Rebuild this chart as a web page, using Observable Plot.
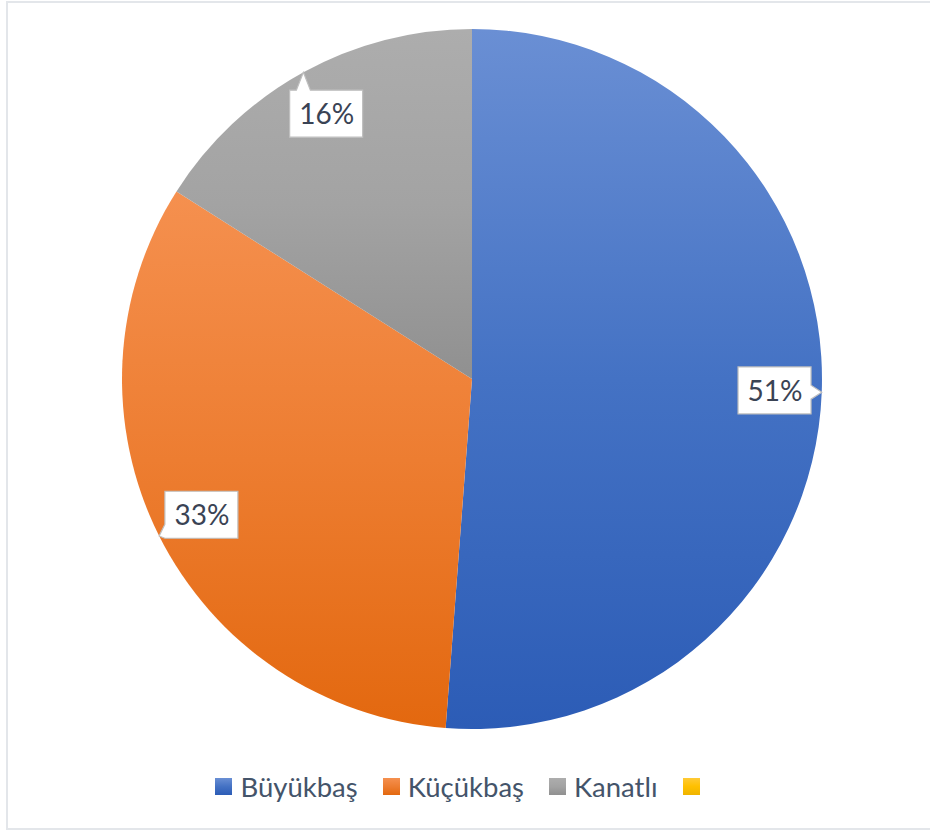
<!DOCTYPE html>
<html><head><meta charset="utf-8">
<script src="https://cdn.jsdelivr.net/npm/d3@7"></script>
<script src="https://cdn.jsdelivr.net/npm/@observablehq/plot@0.6"></script>
<style>
html,body{margin:0;padding:0;background:#fff;overflow:hidden;width:930px;height:831px;}
#frame{position:absolute;left:6px;top:1px;width:940px;height:829px;border:2px solid #e3e6ea;box-sizing:border-box;pointer-events:none;}
#chart{position:absolute;left:0;top:0;width:930px;}
.lg-swatches{justify-content:center;margin-top:10px;padding-left:18px;font-family:Lato,sans-serif;font-size:27.5px;color:#44546a;}
.lg-swatch{margin-right:25px;}
.lg-swatch > svg{margin-right:8px;}
</style></head>
<body>
<svg width="0" height="0" style="position:absolute">
<defs>
<linearGradient id="gB" x1="0" y1="0" x2="0" y2="1"><stop offset="0" stop-color="#6a8fd4"/><stop offset="0.5" stop-color="#4472c4"/><stop offset="1" stop-color="#2c5cb6"/></linearGradient>
<linearGradient id="gO" x1="0" y1="0" x2="0" y2="1"><stop offset="0" stop-color="#f5904f"/><stop offset="0.5" stop-color="#ed7d31"/><stop offset="1" stop-color="#e3680f"/></linearGradient>
<linearGradient id="gG" x1="0" y1="0" x2="0" y2="1"><stop offset="0" stop-color="#adadad"/><stop offset="0.5" stop-color="#a3a3a3"/><stop offset="1" stop-color="#909090"/></linearGradient>
<linearGradient id="gY" x1="0" y1="0" x2="0" y2="1"><stop offset="0" stop-color="#ffca36"/><stop offset="0.5" stop-color="#ffc000"/><stop offset="1" stop-color="#efb400"/></linearGradient>
</defs>
</svg>
<div id="chart"></div>
<div id="frame"></div>
<script>
// ---- data ----
const categories = ["Büyükbaş", "Küçükbaş", "Kanatlı", ""];
const shares = [51.2, 32.8, 16.0, 0];
const labelTexts = ["51%", "33%", "16%", ""];
const fills = ["url(#gB)", "url(#gO)", "url(#gG)", "url(#gY)"];

// ---- derived ----
const rows = categories.map((c, i) => ({category: c, value: shares[i], label: labelTexts[i]}));
const arcs = d3.pie().sort(null).value(d => d.value)(rows);
const LABEL_R = 0.865;
const labelRows = arcs.filter(a => a.data.value > 0).map(a => {
  const m = (a.startAngle + a.endAngle) / 2;
  return {...a.data, lx: LABEL_R * Math.sin(m), ly: LABEL_R * Math.cos(m), tx: Math.sin(m), ty: Math.cos(m)};
});

const BW = 73, BH = 47, PW = 14;

function slices(index, scales) {
  const cx = scales.x(0), cy = scales.y(0), R = Math.abs(scales.x(1) - scales.x(0));
  const arc = d3.arc().innerRadius(0).outerRadius(R);
  const g = d3.create("svg:g").attr("transform", `translate(${cx},${cy})`);
  g.selectAll("path").data(arcs.filter(a => a.value > 0)).join("path")
    .attr("d", arc)
    .attr("fill", a => scales.color(a.data.category));
  return g.node();
}

function callouts(index, scales) {
  const g = d3.create("svg:g");
  for (const d of labelRows) {
    const cx = scales.x(d.lx), cy = scales.y(d.ly), tx = scales.x(d.tx), ty = scales.y(d.ty);
    const x0 = cx - BW / 2, x1 = cx + BW / 2, y0 = cy - BH / 2, y1 = cy + BH / 2;
    const dx = tx - cx, dy = ty - cy;
    const clamp = (v, lo, hi) => Math.max(lo, Math.min(hi, v));
    let pts;
    const T = [tx, ty];
    if (Math.abs(dx) / BW > Math.abs(dy) / BH) {
      const c = clamp(ty, y0 + PW / 2, y1 - PW / 2), b1 = c - PW / 2, b2 = c + PW / 2;
      if (dx > 0) pts = [[x0, y0], [x1, y0], [x1, b1], T, [x1, b2], [x1, y1], [x0, y1]];
      else pts = [[x0, y0], [x1, y0], [x1, y1], [x0, y1], [x0, b2], T, [x0, b1]];
    } else {
      const c = clamp(tx, x0 + PW / 2, x1 - PW / 2), b1 = c - PW / 2, b2 = c + PW / 2;
      if (dy < 0) pts = [[x0, y0], [b1, y0], T, [b2, y0], [x1, y0], [x1, y1], [x0, y1]];
      else pts = [[x0, y0], [x1, y0], [x1, y1], [b2, y1], T, [b1, y1], [x0, y1]];
    }
    g.append("path")
      .attr("d", "M" + pts.map(p => p.join(",")).join("L") + "Z")
      .attr("fill", "#fff").attr("stroke", "#bfbfbf").attr("stroke-width", 1.2);
  }
  return g.node();
}

const colorScale = {type: "ordinal", domain: categories, range: fills};

const chart = Plot.plot({
  width: 930,
  height: 760,
  marginLeft: 122,
  marginRight: 108,
  marginTop: 29,
  marginBottom: 31,
  x: {domain: [-1, 1], axis: null},
  y: {domain: [-1, 1], axis: null},
  color: colorScale,
  style: {fontFamily: "Lato, sans-serif", background: "transparent"},
  marks: [
    Plot.dot(rows, {x: () => 0, y: () => 0, fill: "category", r: 1, fillOpacity: 0}),
    slices,
    callouts,
    Plot.text(labelRows, {x: "lx", y: "ly", text: "label", fontSize: 28, fill: "#3a4354", textAnchor: "middle", lineAnchor: "middle", dy: 1})
  ]
});

const legend = Plot.legend({
  color: colorScale,
  legend: "swatches",
  swatchSize: 17,
  className: "lg"
});

const root = document.getElementById("chart");
root.appendChild(chart);
root.appendChild(legend);
</script>
</body></html>
